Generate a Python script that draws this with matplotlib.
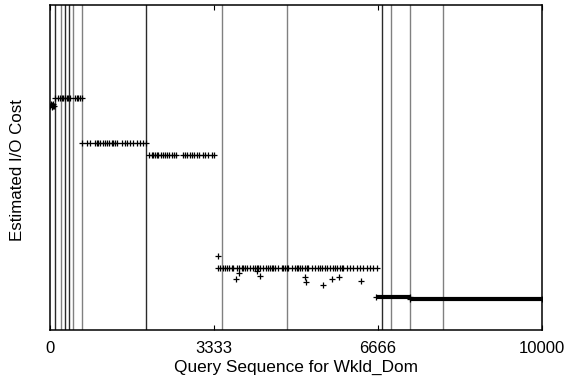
import matplotlib
matplotlib.use("Agg")
import matplotlib.pyplot as plt

plt.rcParams['font.family'] = ['Liberation Sans', 'DejaVu Sans']

# ---- data (y is an arbitrary cost scale) ----
x_ticks = [0, 3333, 6666, 10000]
x_tick_labels = ["0", "3333", "6666", "10000"]

# phase boundaries (vertical lines) and their shade
bound_x = [108, 217, 311, 380, 474, 650, 1945, 3496, 4817, 6755, 6928, 7317, 7988]
bound_dark = [True, False, True, True, False, False, True, False, False, True, False, False, False]

init_x = [8, 20, 32, 45, 58, 70, 85]
init_y = [224, 226, 223, 225, 224, 226, 224]

lvl1_x = [102, 169, 203, 236, 270, 305, 339, 372, 407, 508, 543, 576, 610, 644]
lvl1_y = 231.7

lvl2_x = [644, 746, 813, 915, 949, 982, 1016, 1084, 1118, 1152, 1199, 1254, 1287,
          1321, 1368, 1457, 1524, 1571, 1626, 1694, 1762, 1829, 1897, 1951]
lvl2_y = 186.7

lvl3_x = [2018, 2067, 2100, 2134, 2168, 2201, 2250, 2290, 2337, 2384, 2425, 2474,
          2520, 2561, 2697, 2744, 2791, 2846, 2880, 2927, 2982, 3035, 3104, 3150,
          3218, 3287, 3333]
lvl3_y = 175.3

lvl4_x = [3421, 3455, 3509, 3557, 3591, 3645, 3692, 3726, 3794, 3848, 3896, 3930,
          3963, 3997, 4065, 4119, 4167, 4201, 4234, 4268, 4336, 4390, 4438, 4472,
          4505, 4539, 4573, 4641, 4709, 4743, 4776, 4810, 4845, 4912, 4980, 5014,
          5049, 5081, 5115, 5183, 5217, 5251, 5318, 5386, 5454, 5488, 5522, 5590,
          5623, 5691, 5759, 5793, 5827, 5894, 5928, 5962, 6030, 6098, 6165, 6233,
          6301, 6369, 6436, 6504, 6572, 6640]
lvl4_y = 61.7

out_x = [3408, 3780, 3841, 4201, 4268, 5190, 5210, 5555, 5725, 5874, 6328]
out_y = [73.7, 50.7, 56.7, 59.3, 53.7, 53.0, 47.7, 45.3, 51.3, 52.7, 48.7]

# final dense phases, drawn as solid bands (start, end, level)
band_start = [6626, 7317]
band_end = [7317, 10000]
band_y = [32.8, 31.0]

# ---- figure ----
fig = plt.figure(figsize=(5.77, 3.84), dpi=100)
ax = fig.add_axes([50 / 577, 54 / 384, 492 / 577, 325 / 384])

for bx, dk in zip(bound_x, bound_dark):
    ax.axvline(bx, color='#2a2a2a' if dk else '#808080', lw=1.0, zorder=1)

mk = dict(marker='+', linestyle='none', color='black', ms=4.8, mew=0.9, zorder=3)
ax.plot(init_x, init_y, **mk)
ax.plot(lvl1_x, [lvl1_y] * len(lvl1_x), **mk)
ax.plot(lvl2_x, [lvl2_y] * len(lvl2_x), **mk)
ax.plot(lvl3_x, [lvl3_y] * len(lvl3_x), **mk)
ax.plot(lvl4_x, [lvl4_y] * len(lvl4_x), **mk)
ax.plot(out_x, out_y, **mk)

for xs, xe, yv in zip(band_start, band_end, band_y):
    ax.plot([xs, xe], [yv, yv], color='black', lw=3.0, solid_capstyle='butt', zorder=3)
    ax.plot([xs, xe], [yv, yv], **mk)

ax.set_xlim(0, 10000)
ax.set_ylim(0, 325)
ax.set_xticks(x_ticks)
ax.set_xticklabels(x_tick_labels)
ax.set_yticks([])
ax.tick_params(axis='x', direction='in', length=3.5, width=0.8, top=True,
               labelsize=12, pad=8)
for s in ax.spines.values():
    s.set_linewidth(1.1)

ax.set_xlabel("Query Sequence for Wkld_Dom", fontsize=12.4, labelpad=3)
fig.text(18 / 577, 1 - 170 / 384, "Estimated I/O Cost", rotation=90,
         ha='center', va='center', fontsize=12.2)

fig.savefig("out.png", dpi=100)
